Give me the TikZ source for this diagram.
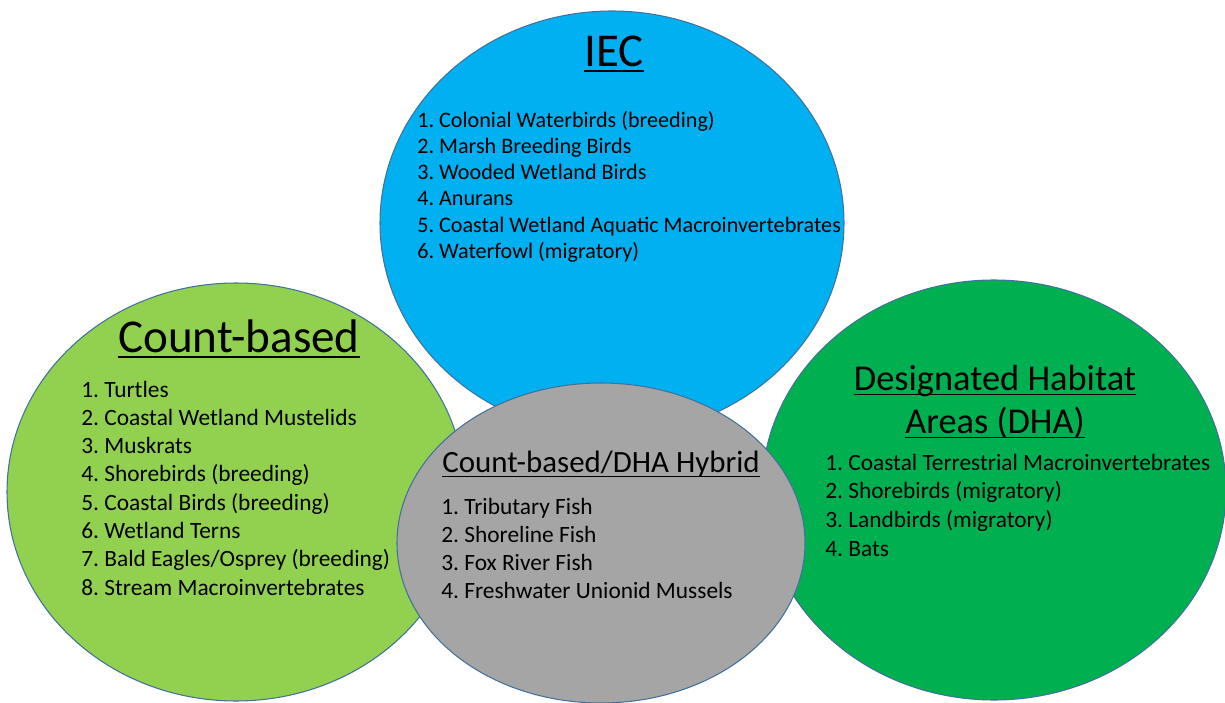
\documentclass[tikz,border=0pt]{standalone}
\usepackage{fontspec}
\setmainfont{Carlito}
\frenchspacing
\definecolor{iecblue}{HTML}{00B0F0}
\definecolor{countgreen}{HTML}{92D050}
\definecolor{dhagreen}{HTML}{00B050}
\definecolor{hybridgrey}{HTML}{A5A5A5}
\definecolor{rimblue}{HTML}{41719C}
\tikzset{area/.style={draw=rimblue, line width=0.6pt},
    heading/.style={inner sep=0pt, anchor=base, font=\fontsize{26.8}{32}\selectfont},
    subheading/.style={heading, font=\fontsize{20.7}{25}\selectfont},
    hybridheading/.style={heading, font=\fontsize{17.6}{21}\selectfont},
    item/.style={inner sep=0pt, anchor=base west, font=\fontsize{13.3}{16}\selectfont},
    iecitem/.style={item, font=\fontsize{12.6}{15}\selectfont},
    rule/.style={line width=1.3pt},
    thinrule/.style={line width=0.9pt}}

\begin{document}
\begin{tikzpicture}[x=0.02cm, y=-0.02cm]
    \useasboundingbox (0,0) rectangle (1225,703);
    \coordinate (iec) at (612,223);
    \coordinate (count) at (236,492);
    \coordinate (dha) at (994,490);
    \coordinate (hybrid) at (601,543);

    % the four groups, back to front
    \path[area, fill=iecblue] (iec) ellipse (232 and 212);
    \path[area, fill=countgreen] (count) ellipse (229 and 209);
    \path[area, fill=dhagreen] (dha) ellipse (232 and 210);
    \path[area, fill=hybridgrey] (hybrid) ellipse (204 and 160);

    % IEC
    \node[heading] (iect) at (614,66) {IEC};
    \draw[rule] ([yshift=-3pt]iect.base west) -- ([yshift=-3pt]iect.base east);
    \foreach \t [count=\i] in {Colonial Waterbirds (breeding), Marsh Breeding Birds,
        Wooded Wetland Birds, Anurans, Coastal Wetland Aquatic Macroinvertebrates,
        Waterfowl (migratory)}
        \node[iecitem] (iec\i) at (417,127+26.3*\i-26.3) {\i. \t};

    % Count-based
    \node[heading] (countt) at (239,352) {Count-based};
    \draw[rule] ([yshift=-3pt]countt.base west) -- ([yshift=-3pt]countt.base east);
    \foreach \t [count=\i] in {Turtles, Coastal Wetland Mustelids, Muskrats,
        Shorebirds (breeding), Coastal Birds (breeding), Wetland Terns,
        Bald Eagles/Osprey (breeding), Stream Macroinvertebrates}
        \node[item] (count\i) at (81,397+28.3*\i-28.3) {\i. \t};

    % DHA
    \node[subheading] (dhat) at (995,390) {Designated Habitat};
    \node[subheading] (dhau) at (995,433) {Areas (DHA)};
    \draw[thinrule] ([yshift=-2.5pt]dhat.base west) -- ([yshift=-2.5pt]dhat.base east);
    \draw[thinrule] ([yshift=-2.5pt]dhau.base west) -- ([yshift=-2.5pt]dhau.base east);
    \foreach \t [count=\i] in {Coastal Terrestrial Macroinvertebrates,
        Shorebirds (migratory), Landbirds (migratory), Bats}
        \node[item] (dha\i) at (825,470+28.7*\i-28.7) {\i. \t};

    % Count-based/DHA hybrid
    \node[hybridheading] (hybridt) at (601,472) {Count-based/DHA Hybrid};
    \draw[thinrule] ([yshift=-2.5pt]hybridt.base west) -- ([yshift=-2.5pt]hybridt.base east);
    \foreach \t [count=\i] in {Tributary Fish, Shoreline Fish, Fox River Fish,
        Freshwater Unionid Mussels}
        \node[item] (hybrid\i) at (441,514+28*\i-28) {\i. \t};
\end{tikzpicture}
\end{document}
